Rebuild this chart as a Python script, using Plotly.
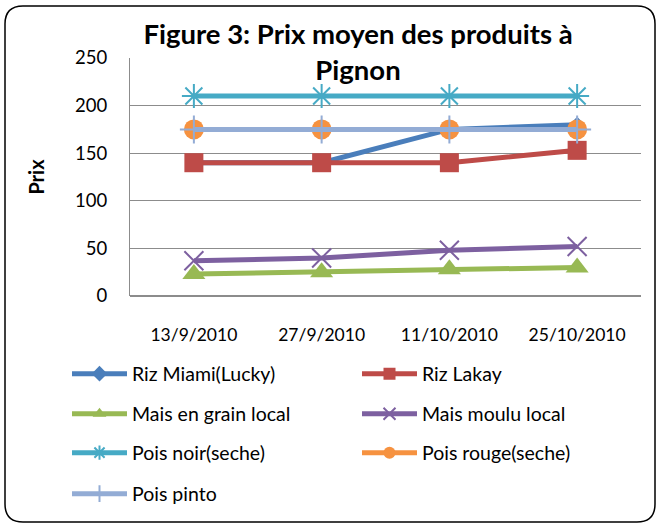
import plotly.graph_objects as go

dates = ["13/9/2010", "27/9/2010", "11/10/2010", "25/10/2010"]
riz_miami = [140, 140, 175, 180]
riz_lakay = [140, 140, 140, 153]
mais_grain = [23, 25, 28, 30]
mais_moulu = [37, 40, 48, 52]
pois_noir = [210, 210, 210, 210]
pois_rouge = [175, 175, 175, 175]
pois_pinto = [175, 175, 175, 175]

series = [
    ("Riz Miami(Lucky)", riz_miami, "#4A7EBB", "diamond", 12),
    ("Riz Lakay", riz_lakay, "#BE4B48", "square", 19),
    ("Mais en grain local", mais_grain, "#98B954", "triangle-up", 20),
    ("Mais moulu local", mais_moulu, "#7D60A0", "x-thin", 19),
    ("Pois noir(seche)", pois_noir, "#46AAC5", "asterisk", 20),
    ("Pois rouge(seche)", pois_rouge, "#F69240", "circle", 20),
    ("Pois pinto", pois_pinto, "#93ACD5", "cross-thin", 20),
]

FONT = "Lato"
L, R, T, B = 130, 20, 58, 234
H = 530 - T - B
W = 661 - L - R

def py(p):
    return (530 - B - p) / H

def px(p):
    return (p - L) / W

fig = go.Figure()
leg_layout = {}
rows = [374, 414, 453, 494]
cols = [67, 357]
for i, (name, vals, col, sym, sz) in enumerate(series):
    thin = sym.endswith("thin") or sym == "asterisk"
    key = "legend" if i == 0 else f"legend{i + 1}"
    fig.add_trace(go.Scatter(
        x=dates, y=vals, name=name, mode="lines+markers",
        line=dict(color=col, width=5),
        marker=dict(symbol=sym, size=sz, color=col,
                    line=dict(color=col, width=2 if thin else 0)),
        legend=key,
    ))
    leg_layout[key] = dict(
        x=px(cols[i % 2]), y=py(rows[i // 2]), xanchor="left", yanchor="middle",
        font=dict(family=FONT, size=19.5, color="black"),
        bgcolor="rgba(0,0,0,0)", itemwidth=55, itemsizing="constant")

# rounded border
x0, x1, y0, y1, r = 5, 655, 6, 522, 18
path = (f"M {px(x0 + r)},{py(y0)} L {px(x1 - r)},{py(y0)} "
        f"Q {px(x1)},{py(y0)} {px(x1)},{py(y0 + r)} "
        f"L {px(x1)},{py(y1 - r)} Q {px(x1)},{py(y1)} {px(x1 - r)},{py(y1)} "
        f"L {px(x0 + r)},{py(y1)} Q {px(x0)},{py(y1)} {px(x0)},{py(y1 - r)} "
        f"L {px(x0)},{py(y0 + r)} Q {px(x0)},{py(y0)} {px(x0 + r)},{py(y0)} Z")

fig.update_layout(
    width=661, height=530,
    margin=dict(l=L, r=R, t=T, b=B),
    paper_bgcolor="white", plot_bgcolor="white",
    font=dict(family=FONT, size=17, color="black"),
    title=dict(text="<b>Figure 3: Prix moyen des produits à<br>Pignon</b>",
               x=358 / 661, xanchor="center", y=1 - 44 / 530, yanchor="top",
               font=dict(family=FONT, size=27.5, color="black")),
    xaxis=dict(type="category", range=[-0.5, 3.5], showgrid=False,
               showline=False, ticks="", tickfont=dict(size=17.5),
               ticklabelstandoff=26),
    yaxis=dict(range=[0, 250], dtick=50, showgrid=True, gridcolor="#8C8C8C",
               gridwidth=1, showline=True, linecolor="#8C8C8C", linewidth=1,
               zeroline=True, zerolinecolor="#8C8C8C", ticks="",
               tickfont=dict(size=18.5), ticklabelstandoff=18,
               title=dict(text="<b>Prix</b>", font=dict(size=20), standoff=25)),
    shapes=[dict(type="path", path=path, xref="paper", yref="paper",
                 line=dict(color="black", width=1.5), layer="above")],
    showlegend=True,
    **leg_layout,
)

fig.write_html("out.html", config={"displayModeBar": False},
               post_script="document.body.style.margin='0';")
